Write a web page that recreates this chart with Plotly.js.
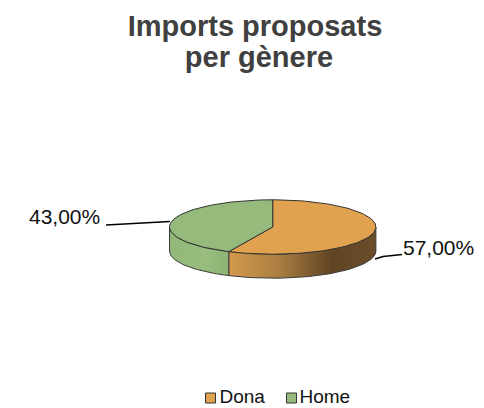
<!DOCTYPE html>
<html><head><meta charset="utf-8">
<script src="https://cdn.plot.ly/plotly-3.0.1.min.js"></script>
<style>html,body{margin:0;padding:0;background:#fff}#c{width:484px;height:408px}</style>
</head><body><div id="c"></div>
<script>
const categories = ["Dona", "Home"];
const shares = [57, 43];
const topColors = ["#E0A24F", "#95BA7B"];
const wallScales = [
  [[0,"#D49A4C"],[0.35,"#A97D41"],[0.7,"#5F4423"],[1,"#6B4D29"]],
  [[0,"#92B879"],[0.6,"#98BD7F"],[1,"#8DB375"]]
];
const labelText = ["57,00%", "43,00%"];

const cx = 272.7, cy = 227, a = 103.2, b = 27.2, depth = 24;
const rim = d => [cx + a*Math.sin(d*Math.PI/180), cy - b*Math.cos(d*Math.PI/180)];
const range = (s, e) => { const o=[]; const n=Math.max(2,Math.ceil(Math.abs(e-s)/2)); for(let i=0;i<=n;i++) o.push(s+(e-s)*i/n); return o; };

const edge = shares[0]/(shares[0]+shares[1])*360;
const traces = [];
// side walls (only the front half of the disc is visible)
[[90, edge],[edge, 270]].forEach((r,i)=>{
  const ds = range(r[0], r[1]);
  const up = ds.map(rim), low = ds.slice().reverse().map(rim).map(p=>[p[0],p[1]+depth]);
  const all = up.concat(low); all.push(up[0]);
  traces.push({type:"scatter",mode:"lines",x:all.map(p=>p[0]),y:all.map(p=>p[1]),
    fill:"toself",fillgradient:{type:"horizontal",colorscale:wallScales[i]},
    line:{color:"#3a3a3a",width:1},hoverinfo:"skip",showlegend:false});
});
// top slices
[[0, edge],[edge, 360]].forEach((r,i)=>{
  const pts = [[cx,cy]].concat(range(r[0],r[1]).map(rim)); pts.push([cx,cy]);
  traces.push({type:"scatter",mode:"lines",name:categories[i],x:pts.map(p=>p[0]),y:pts.map(p=>p[1]),
    fill:"toself",fillcolor:topColors[i],line:{color:"#333333",width:1},hoverinfo:"name",showlegend:false});
});
// leader lines
const leaderX = [[375,383,402],[106,170]], leaderY = [[259,256.5,254.5],[225,221.5]];
leaderX.forEach((x,i)=>traces.push({type:"scatter",mode:"lines",x:x,y:leaderY[i],
  line:{color:"#000",width:1.5},hoverinfo:"skip",showlegend:false}));
// data labels
traces.push({type:"scatter",mode:"text",x:[403,29],y:[249.5,219],text:labelText,textposition:"middle right",
  textfont:{family:"Liberation Sans, Arial",size:21,color:"#111"},hoverinfo:"skip",showlegend:false});
// legend
const legendX = [210.5,291.5], legendTextX = [219.5,299.5];
categories.forEach((c,i)=>{
  traces.push({type:"scatter",mode:"markers",x:[legendX[i]],y:[398],
    marker:{symbol:"square",size:10,color:topColors[i],line:{color:"#333",width:1}},hoverinfo:"skip",showlegend:false});
  traces.push({type:"scatter",mode:"text",x:[legendTextX[i]],y:[398],text:[c],textposition:"middle right",
    textfont:{family:"Liberation Sans, Arial",size:19,color:"#111"},hoverinfo:"skip",showlegend:false});
});

const hidden = {visible:false,fixedrange:true};
Plotly.newPlot("c",traces,{
  width:484,height:408,margin:{l:0,r:0,t:0,b:0},paper_bgcolor:"#fff",plot_bgcolor:"#fff",showlegend:false,
  title:{text:"Imports proposats<br>per gènere",x:255/484,xref:"paper",xanchor:"center",y:0.911,yanchor:"top",
    font:{family:"Liberation Sans, Arial",size:29,color:"#404040",weight:700}},
  xaxis:Object.assign({range:[0,484]},hidden),
  yaxis:Object.assign({range:[408,0]},hidden)
},{displayModeBar:false}).then(gd=>{
  const lines = gd.querySelectorAll(".gtitle tspan.line");
  if(lines.length>1){
    lines[1].setAttribute("dy","1.07em");
    lines[1].setAttribute("x", parseFloat(lines[1].getAttribute("x"))+4);
  }
});
</script></body></html>
